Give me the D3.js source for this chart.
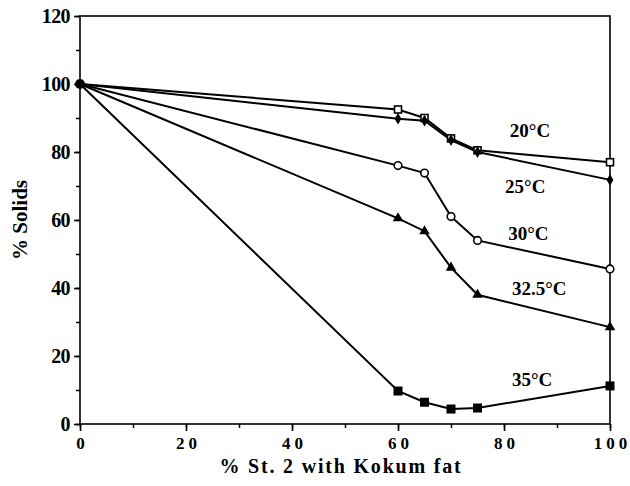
<!DOCTYPE html>
<html>
<head>
<meta charset="utf-8">
<script src="https://cdn.jsdelivr.net/npm/d3@7"></script>
<style>
  body { margin: 0; background: #fff; }
  svg text { font-family: "Liberation Serif", "Times New Roman", serif; font-weight: bold; fill: #000; }
</style>
</head>
<body>
<svg id="chart" width="630" height="486"></svg>
<script>
// data
var xValues = [0, 60, 65, 70, 75, 100];
var temps = ["20°C", "25°C", "30°C", "32.5°C", "35°C"];
var solids20 = [100, 92.5, 90, 84, 80.5, 77];
var solids25 = [100, 89.8, 89.2, 83.5, 80, 71.8];
var solids30 = [100, 76, 73.8, 61, 54, 45.6];
var solids325 = [100, 60.5, 56.7, 46, 38, 28.5];
var solids35 = [100, 9.7, 6.4, 4.4, 4.7, 11.2];
var xTicks = [0, 20, 40, 60, 80, 100];
var yTicks = [0, 20, 40, 60, 80, 100, 120];

var series = [
  { name: temps[0], values: solids20, marker: "openSquare" },
  { name: temps[1], values: solids25, marker: "diamond" },
  { name: temps[2], values: solids30, marker: "openCircle" },
  { name: temps[3], values: solids325, marker: "triangle" },
  { name: temps[4], values: solids35, marker: "square" }
];

// where each temperature label sits (data units, left / baseline)
var labelPos = [[81.1, 84.4], [80.2, 67.9], [80.8, 54.1], [81.5, 37.9], [81.5, 11.2]];

// note: "top" is taken by window.top, so plot edges get their own names
var plotLeft = 80, plotRight = 610, plotTop = 16, plotBottom = 424;
var svg = d3.select("#chart");

var x = d3.scaleLinear().domain([0, 100]).range([plotLeft, plotRight]);
var y = d3.scaleLinear().domain([0, 120]).range([plotBottom, plotTop]);

// frame
svg.append("rect")
  .attr("x", plotLeft).attr("y", plotTop)
  .attr("width", plotRight - plotLeft).attr("height", plotBottom - plotTop)
  .attr("fill", "none").attr("stroke", "#000").attr("stroke-width", 1.6);

// minor ticks every 10
svg.append("g")
  .attr("transform", "translate(0," + plotBottom + ")")
  .call(d3.axisBottom(x).tickValues(d3.range(0, 101, 10)).tickSize(4).tickFormat(""))
  .call(function(g) { g.select(".domain").remove(); })
  .selectAll("line").attr("stroke-width", 1.5);
svg.append("g")
  .attr("transform", "translate(" + plotLeft + ",0)")
  .call(d3.axisLeft(y).tickValues(d3.range(0, 121, 10)).tickSize(4).tickFormat(""))
  .call(function(g) { g.select(".domain").remove(); })
  .selectAll("line").attr("stroke-width", 1.5);

// major ticks with labels
var xAxis = svg.append("g")
  .attr("transform", "translate(0," + plotBottom + ")")
  .call(d3.axisBottom(x).tickValues(xTicks).tickSize(7).tickPadding(6));
xAxis.select(".domain").remove();
xAxis.selectAll("line").attr("stroke-width", 1.6);
xAxis.selectAll("text")
  .style("font-size", "17px")
  .style("letter-spacing", "4px")
  .attr("dx", "2px");

var yAxis = svg.append("g")
  .attr("transform", "translate(" + plotLeft + ",0)")
  .call(d3.axisLeft(y).tickValues(yTicks).tickSize(6).tickPadding(4));
yAxis.select(".domain").remove();
yAxis.selectAll("line").attr("stroke-width", 1.6);
yAxis.selectAll("text")
  .style("font-size", "20px")
  .style("letter-spacing", "-0.6px");

// axis titles
svg.append("text")
  .attr("x", (plotLeft + plotRight) / 2 - 4)
  .attr("y", 473)
  .attr("text-anchor", "middle")
  .style("font-size", "20px")
  .style("letter-spacing", "1.8px")
  .text("% St. 2 with Kokum fat");

svg.append("text")
  .attr("transform", "translate(27," + y(60) + ") rotate(-90)")
  .attr("text-anchor", "middle")
  .style("font-size", "21px")
  .text("% Solids");

// lines
var line = d3.line()
  .x(function(d, i) { return x(xValues[i]); })
  .y(function(d) { return y(d); });

svg.selectAll(".series")
  .data(series)
  .enter().append("path")
  .attr("class", "series")
  .attr("d", function(d) { return line(d.values); })
  .attr("fill", "none")
  .attr("stroke", "#000")
  .attr("stroke-width", 2);

// markers - skip the shared start point, drawn once below
function drawMarker(g, type) {
  if (type == "openSquare") {
    g.append("rect").attr("x", -3.5).attr("y", -3.5).attr("width", 7).attr("height", 7)
      .attr("fill", "#fff").attr("stroke", "#000").attr("stroke-width", 1.6);
  } else if (type == "square") {
    g.append("rect").attr("x", -4.5).attr("y", -4.5).attr("width", 9).attr("height", 9)
      .attr("fill", "#000");
  } else if (type == "openCircle") {
    g.append("circle").attr("r", 3.8)
      .attr("fill", "#fff").attr("stroke", "#000").attr("stroke-width", 1.6);
  } else if (type == "diamond") {
    g.append("path").attr("d", d3.symbol(d3.symbolDiamond, 40)).attr("fill", "#000");
  } else if (type == "triangle") {
    g.append("path").attr("d", d3.symbol(d3.symbolTriangle, 48)).attr("fill", "#000");
  }
}

series.forEach(function(s) {
  s.values.forEach(function(v, i) {
    if (i == 0) return;
    var g = svg.append("g")
      .attr("transform", "translate(" + x(xValues[i]) + "," + y(v) + ")");
    drawMarker(g, s.marker);
  });
});

svg.append("circle")
  .attr("cx", x(xValues[0])).attr("cy", y(solids20[0]))
  .attr("r", 5).attr("fill", "#000");

// temperature labels
svg.selectAll(".tlabel")
  .data(series)
  .enter().append("text")
  .attr("class", "tlabel")
  .attr("x", function(d, i) { return x(labelPos[i][0]); })
  .attr("y", function(d, i) { return y(labelPos[i][1]); })
  .style("font-size", "19px")
  .text(function(d) { return d.name; });
</script>
</body>
</html>
